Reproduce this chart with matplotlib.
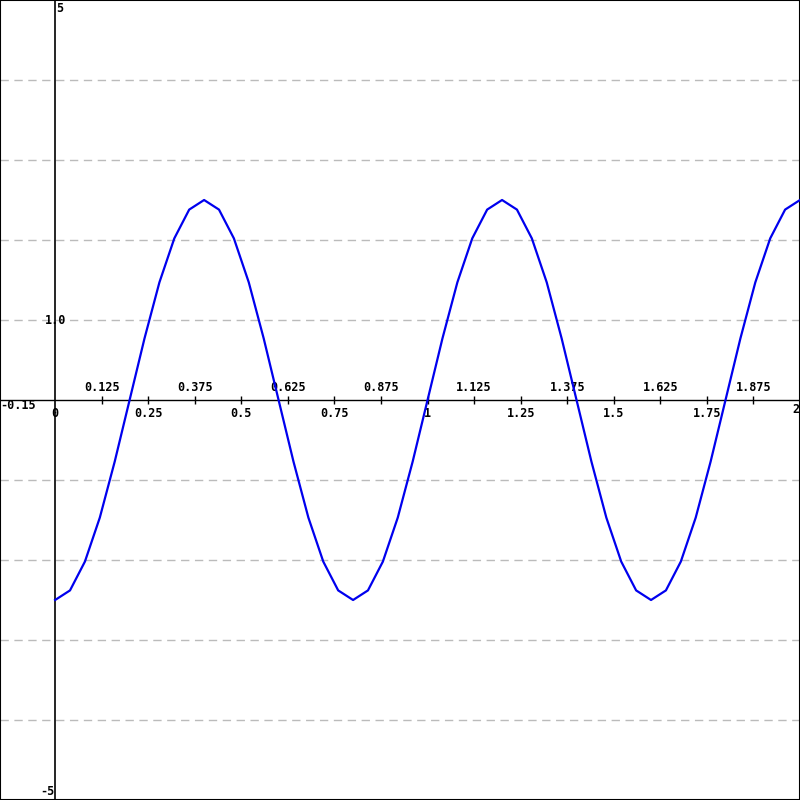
import matplotlib
matplotlib.use('Agg')
import matplotlib.pyplot as plt

# curve samples (step 0.04)
xs = [0.00, 0.04, 0.08, 0.12, 0.16, 0.20, 0.24, 0.28, 0.32, 0.36,
      0.40, 0.44, 0.48, 0.52, 0.56, 0.60, 0.64, 0.68, 0.72, 0.76,
      0.80, 0.84, 0.88, 0.92, 0.96, 1.00, 1.04, 1.08, 1.12, 1.16,
      1.20, 1.24, 1.28, 1.32, 1.36, 1.40, 1.44, 1.48, 1.52, 1.56,
      1.60, 1.64, 1.68, 1.72, 1.76, 1.80, 1.84, 1.88, 1.92, 1.96, 2.00]
ys = [-2.50, -2.38, -2.02, -1.47, -0.77, 0.00, 0.77, 1.47, 2.02, 2.38,
      2.50, 2.38, 2.02, 1.47, 0.77, 0.00, -0.77, -1.47, -2.02, -2.38,
      -2.50, -2.38, -2.02, -1.47, -0.77, 0.00, 0.77, 1.47, 2.02, 2.38,
      2.50, 2.38, 2.02, 1.47, 0.77, 0.00, -0.77, -1.47, -2.02, -2.38,
      -2.50, -2.38, -2.02, -1.47, -0.77, 0.00, 0.77, 1.47, 2.02, 2.38, 2.50]

x_ticks = [0.125, 0.25, 0.375, 0.5, 0.625, 0.75, 0.875, 1.0,
           1.125, 1.25, 1.375, 1.5, 1.625, 1.75, 1.875]
x_labels = ['0.125', '0.25', '0.375', '0.5', '0.625', '0.75', '0.875', '1',
            '1.125', '1.25', '1.375', '1.5', '1.625', '1.75', '1.875']
grid_y = [-4, -3, -2, -1, 1, 2, 3, 4]

fig = plt.figure(figsize=(8, 8), dpi=100)
ax = fig.add_axes([0, 0, 1, 1])
ax.set_xlim(-0.148, 2.0)
ax.set_ylim(-5, 5)
ax.set_xticks([])
ax.set_yticks([])
for s in ax.spines.values():
    s.set_linewidth(1.5)
    s.set_color('black')

font = dict(family='DejaVu Sans Mono', fontsize=8.5, fontweight='bold', color='black')

for gy in grid_y:
    ax.axhline(gy, color='#bbbbbb', lw=1, ls=(0, (6, 4)), zorder=1)

ax.axhline(0, color='black', lw=1, zorder=2)
ax.axvline(0, color='black', lw=1.2, zorder=2)
ax.plot(x_ticks, [0] * len(x_ticks), '|', color='black', ms=6, mew=1, zorder=2)

for i, (xt, lab) in enumerate(zip(x_ticks, x_labels)):
    if i % 2 == 0:
        ax.text(xt, 0.16, lab, ha='center', va='center', **font)
    else:
        ax.text(xt, -0.17, lab, ha='center', va='center', **font)

ax.text(0, -0.17, '0', ha='center', va='center', **font)
ax.text(1.999, -0.12, '2', ha='right', va='center', **font)
ax.text(-0.146, -0.07, '-0.15', ha='left', va='center', **font)
ax.text(0.002, 4.97, '5', ha='left', va='top', **font)
ax.text(-0.002, -4.97, '-5', ha='right', va='bottom', **font)
ax.text(0, 0.99, '1.0', ha='center', va='center', zorder=4, **font)

ax.plot(xs, ys, color='#0000ee', lw=1.6, zorder=3)

fig.savefig('out.png', dpi=100)
